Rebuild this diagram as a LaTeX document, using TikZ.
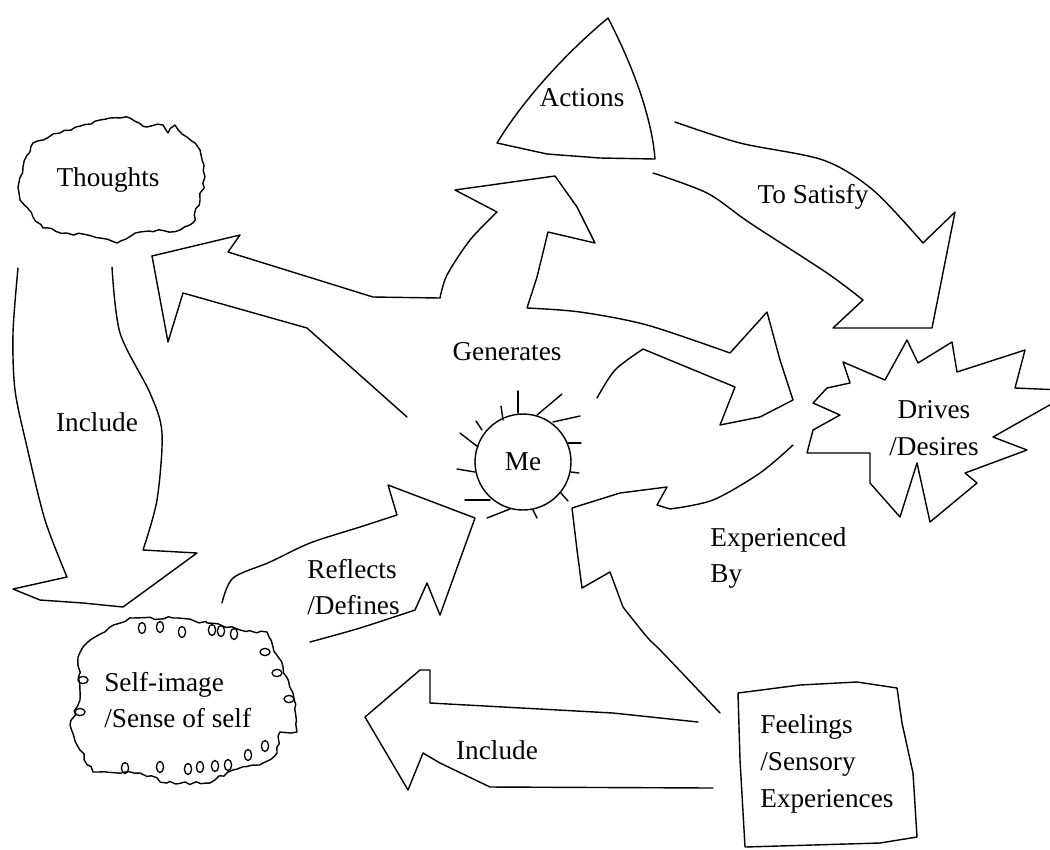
\documentclass[tikz,border=0pt]{standalone}
\usepackage{fontspec}
\setmainfont{Liberation Serif}
\usetikzlibrary{decorations.pathmorphing}
\begin{document}
\begin{tikzpicture}[x=0.02cm,y=-0.02cm,
  ln/.style={line width=0.8pt, line join=round, line cap=round, draw=black},
  wob/.style={decorate, decoration={random steps, segment length=3pt, amplitude=0.9pt}},
  lbl/.style={font=\fontsize{15.5}{21}\selectfont, inner sep=0pt, text=black},
  loopc/.style={line width=0.75pt, draw=black}]
\pgfmathsetseed{7}
\useasboundingbox[fill=white] (0,0) rectangle (1050,849);

% ---------- text nodes ----------
\node[lbl] (thoughts) at (108,180) {Thoughts};
\node[lbl] (actions) at (582,98) {Actions};
\node[lbl] (tosat) at (813,197) {To Satisfy};
\node[lbl] (gen) at (507,352) {Generates};
\node[lbl, align=center] (drives) at (934,428) {Drives\\/Desires};
\node[lbl] (inc1) at (97,422) {Include};
\node[lbl, align=left, anchor=west] (refl) at (307,587) {Reflects\\/Defines};
\node[lbl, align=left, anchor=west] (exper) at (710,558) {Experienced\\By};
\node[lbl, align=left, anchor=west] (self) at (104,700) {Self-image\\/Sense of self};
\node[lbl] (inc2) at (497,750) {Include};
\node[lbl, align=left, anchor=west] (feel) at (760,764) {Feelings\\/Sensory\\Experiences};
\node[lbl, draw=black, line width=0.8pt, circle, minimum size=1.92cm] (me) at (523,462) {Me};

% ---------- Me rays ----------
\foreach \ax/\ay/\bx/\by in {518/413/518/391, 503/420/501/406, 537/415/562/394,
  553/422/580/416, 568/443/581/443, 571/472/579/473, 560/492/568/501,
  533/510/537/518, 510/509/487/518, 490/500/465/500, 475/472/457/469,
  478/447/460/433, 482/430/476/421}
  \draw[ln] (\ax,\ay) -- (\bx,\by);

% ---------- Thoughts cloud ----------
\draw[ln, wob] (33,143) -- (60,133) -- (100,120) -- (130,118) -- (147,127) -- (163,125)
  -- (168,133) -- (175,125) -- (187,137) -- (200,150) -- (205,177) -- (200,200)
  -- (193,223) -- (180,230) -- (140,232) -- (117,243) -- (100,238) -- (67,233)
  -- (43,228) -- (33,217) -- (20,200) -- (18,187) -- (23,167) -- cycle;

% ---------- Actions triangle ----------
\draw[ln] (608,18) .. controls (635,70) and (652,120) .. (655,159) -- (600,158)
  -- (547,154) -- (497,143) .. controls (520,105) and (560,58) .. cycle;

% ---------- Drives / Desires starburst ----------
\draw[ln] (850,383) -- (843,362) -- (885,380) -- (907,340) -- (918,363) -- (952,342)
  -- (957,372) -- (1025,350) -- (1015,388) -- (1062,390) -- (1062,398) -- (993,437)
  -- (1027,450) -- (965,473) -- (977,483) -- (930,522) -- (917,463) -- (900,517)
  -- (870,483) -- (870,453) -- (807,453) -- (813,430) -- (840,415) -- (813,403)
  -- (827,388) -- cycle;

% ---------- Feelings box ----------
\draw[ln] (738,693) -- (800,685) -- (857,682) -- (897,688) -- (902,723) -- (913,773)
  -- (917,837) -- (880,843) -- (745,847) -- (740,760) -- cycle;

% ---------- Self-image cloud ----------
\draw[ln, wob] (83,647) -- (110,627) -- (133,618) -- (173,618) -- (207,623) -- (240,630)
  -- (267,632) -- (273,647) -- (283,667) -- (293,693) -- (297,732) -- (280,732)
  -- (277,753) -- (263,763) -- (233,770) -- (207,783) -- (167,783) -- (140,773)
  -- (93,772) -- (80,750) -- (70,725) -- (80,700) -- (78,657) -- cycle;
\foreach \px/\py in {142/628, 160/627, 182/632, 212/630, 221/631, 234/634,
  125/768, 160/767, 188/769, 200/767, 215/766, 228/765, 248/755, 265/746}
  \draw[loopc] (\px,\py) circle[x radius=3.6, y radius=5.5];
\foreach \px/\py in {265/652, 277/673, 289/699, 83/680, 80/712}
  \draw[loopc] (\px,\py) circle[x radius=5, y radius=3.6];

% ---------- Generates arrow (to Thoughts, Actions, Drives) ----------
\draw[ln] (152,256) -- (240,235) -- (228,252) -- (373,297) -- (440,298)
  -- plot[smooth] coordinates {(440,298) (447,275) (470,240) (497,212)}
  -- (455,190) -- (555,176) -- (577,207) -- (595,243) -- (548,232) -- (537,277)
  -- (527,308) -- plot[smooth] coordinates {(527,308) (580,312) (647,325) (730,353)}
  -- (767,312) -- (780,360) -- (793,400) -- (760,417) -- (720,425) -- (735,387)
  -- (643,349) -- plot[smooth] coordinates {(643,349) (615,370) (597,398)};
\draw[ln] (152,256) -- (168,342) -- (183,293) -- (307,328) -- (407,417);

% ---------- To Satisfy arrow ----------
\draw[ln] plot[smooth] coordinates {(675,122) (740,143) (823,160) (873,190) (923,243)}
  -- (955,212) -- (932,328) -- (833,328) -- (863,300)
  -- plot[smooth] coordinates {(863,300) (827,273) (750,223) (707,193) (653,173)};

% ---------- Experienced By arrow ----------
\draw[ln] plot[smooth] coordinates {(793,445) (760,473) (713,500) (670,509)}
  -- (657,505) -- (667,487) -- (620,493) -- (572,508) -- (577,550) -- (582,588)
  -- (610,572) -- (623,607)
  -- plot[smooth] coordinates {(623,607) (647,637) (663,653) (720,713)};

% ---------- Reflects / Defines arrow ----------
\draw[ln] plot[smooth] coordinates {(222,603) (233,578) (270,562) (310,543) (360,527) (397,515)}
  -- (388,485) -- (475,518) -- (440,615) -- (427,583) -- (415,610)
  -- plot[smooth] coordinates {(415,610) (360,628) (310,642)};

% ---------- Include arrow (Feelings -> Self-image) ----------
\draw[ln] (698,722) -- (613,713) -- (430,703) -- (430,670) -- (420,670) -- (365,717)
  -- (408,790) -- (423,753) -- (440,763) -- (490,787) -- (713,788);

% ---------- Include arrow (Thoughts -> Self-image) ----------
\draw[ln] plot[smooth] coordinates {(18,268) (13,333) (15,390) (27,447) (45,520) (67,577)}
  -- (13,589) -- (40,600) -- (83,603) -- (123,607) -- (197,553) -- (143,550)
  -- plot[smooth] coordinates {(143,550) (157,500) (162,433) (150,393) (120,333) (112,267)};
\end{tikzpicture}
\end{document}
